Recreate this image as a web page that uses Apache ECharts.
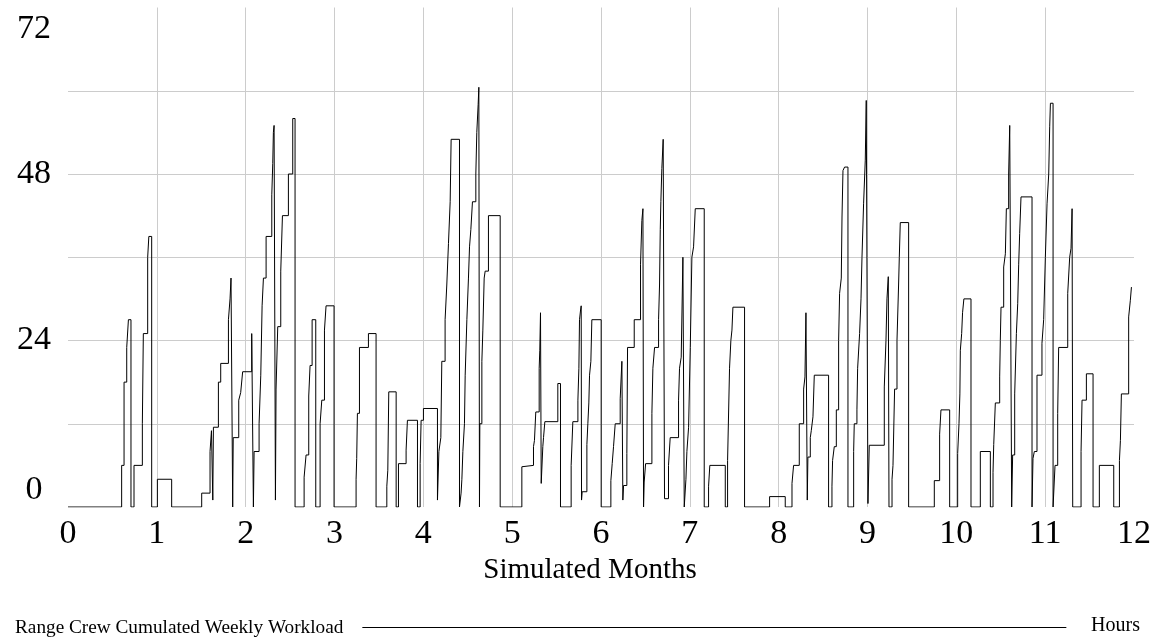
<!DOCTYPE html>
<html>
<head>
<meta charset="utf-8">
<script src="https://cdn.jsdelivr.net/npm/echarts@6/dist/echarts.min.js"></script>
<style>
html,body{margin:0;padding:0;background:#fff;}
#chart{width:1161px;height:643px;}
</style>
</head>
<body>
<div id="chart"></div>
<script>
// Step change points: month where a new value starts, and the workload (hours) from then on
const months = [
  0, 0.604, 0.631, 0.661, 0.680, 0.709, 0.743, 0.837, 0.848, 0.897, 0.910, 0.942,
  1.006, 1.167, 1.505, 1.599, 1.615, 1.630, 1.637, 1.693, 1.719, 1.806, 1.824, 1.835, 1.854, 1.860, 1.922, 1.944, 1.966,
  2.068, 2.087, 2.095, 2.151, 2.170, 2.185, 2.200, 2.230, 2.294, 2.305, 2.312, 2.320, 2.335, 2.342, 2.361, 2.395, 2.414, 2.481, 2.530, 2.556,
  2.658, 2.680, 2.710, 2.725, 2.748, 2.789, 2.838, 2.857, 2.887, 2.905, 2.995,
  3.243, 3.250, 3.258, 3.281, 3.382, 3.468, 3.589, 3.600, 3.611, 3.694, 3.720, 3.806, 3.821, 3.934, 3.964, 3.975, 4.001,
  4.159, 4.175, 4.197, 4.208, 4.245, 4.264, 4.283, 4.302, 4.313, 4.407, 4.425, 4.434, 4.445, 4.463, 4.471, 4.490, 4.508, 4.520, 4.535, 4.553, 4.591, 4.602, 4.617, 4.625, 4.632,
  4.636, 4.659, 4.670, 4.685, 4.696, 4.733, 4.865,
  5.109, 5.128, 5.240, 5.251, 5.266, 5.304, 5.311, 5.319, 5.327, 5.345, 5.353, 5.368, 5.514, 5.544,
  5.664, 5.683, 5.740, 5.751, 5.758, 5.770, 5.777, 5.781, 5.788, 5.841, 5.852, 5.863, 5.871, 5.886, 5.897, 6.002,
  6.111, 6.126, 6.141, 6.160, 6.216, 6.235, 6.246, 6.254, 6.291, 6.299, 6.374, 6.445, 6.460, 6.472, 6.479,
  6.486, 6.502, 6.573, 6.584, 6.603, 6.648, 6.659, 6.667, 6.674, 6.685, 6.700, 6.715,
  6.760, 6.779, 6.873, 6.884, 6.903, 6.922, 6.937, 6.956, 6.967, 6.986, 7.005, 7.023, 7.042, 7.061, 7.162,
  7.211, 7.225, 7.399, 7.425, 7.447, 7.462, 7.474, 7.485, 7.616, 7.898, 8.074,
  8.150, 8.168, 8.232, 8.281, 8.296, 8.307, 8.322, 8.329, 8.356, 8.367, 8.386, 8.401, 8.562,
  8.600, 8.607, 8.626, 8.649, 8.675, 8.686, 8.705, 8.713, 8.724, 8.742, 8.780,
  8.844, 8.851, 8.881, 8.889, 8.911, 8.927, 8.938, 8.956, 8.975, 8.986, 9.005, 9.020,
  9.189, 9.208, 9.219, 9.234, 9.242, 9.276, 9.287, 9.305, 9.332, 9.350, 9.358, 9.369, 9.463,
  9.752, 9.812, 9.827, 9.925, 10.015, 10.030, 10.040, 10.045, 10.060, 10.070, 10.085, 10.165,
  10.270, 10.383, 10.413, 10.421, 10.439, 10.488, 10.495, 10.503, 10.533, 10.552, 10.563, 10.589, 10.601, 10.623,
  10.634, 10.657, 10.676, 10.691, 10.702, 10.713, 10.728, 10.852,
  10.863, 10.878, 10.908, 10.964, 10.983, 11.002, 11.021, 11.040, 11.051, 11.059, 11.089,
  11.111, 11.141, 11.152, 11.254, 11.276, 11.291, 11.303, 11.310, 11.404, 11.415, 11.464, 11.539,
  11.610, 11.772, 11.836, 11.847, 11.858, 11.940, 11.959, 11.971, 11.978
];
const hours = [
  0, 6, 18, 23, 27, 0, 6, 12, 25, 36, 39, 0,
  4, 0, 2, 8, 11, 1, 11.5, 18, 20.7, 27, 30, 33, 0, 10, 15.4, 16.5, 19.5,
  25, 0, 8, 12, 19, 29, 33, 39, 45, 49.5, 54, 55, 1, 17, 26, 34, 42, 48, 56, 0,
  4.3, 7.5, 16, 20.4, 27, 0, 12, 15.4, 25.5, 29, 0,
  4, 7, 13.5, 23, 25, 0, 3, 5.3, 16.6, 0, 6.25, 8.2, 12.5, 0, 6.25, 12.5, 14.2,
  1, 8, 10, 21, 27, 32, 38, 44, 53, 0, 2, 4, 8, 12, 19, 27, 33, 37.5, 40, 44, 48, 54, 58, 60.5, 0,
  12, 21, 25.5, 33, 34, 42, 0,
  5.8, 6, 8.7, 9.6, 13.7, 20, 22.6, 28, 3.4, 8.7, 10, 12.3, 17.8, 0,
  6, 12.3, 15.4, 20, 27, 28.4, 29, 1, 2.2, 9, 12, 15, 19, 21, 27, 0,
  3.8, 6.25, 8.7, 12, 15.6, 21, 1, 3.1, 7.7, 23, 27, 35, 41.3, 43, 0,
  3.6, 6.25, 13.5, 20, 23, 27, 32, 40, 44, 48.8, 53, 1.2,
  6, 10, 15.4, 20, 21.6, 36, 0, 4, 8, 11.5, 23, 36, 37.5, 43, 0,
  3, 6, 0, 6.7, 20, 24, 25.5, 28.8, 0, 1.5, 0,
  3.4, 6, 12, 17, 18.75, 28, 1, 7.2, 10, 11, 13, 19, 0,
  3, 6.7, 8.7, 14, 24, 30.8, 33, 41.8, 48.5, 49, 0,
  8, 12, 14, 20, 25, 30, 36, 43.7, 50, 58.6, 0.5, 8.9,
  17.3, 24, 30, 33.2, 0, 4, 6, 17, 24, 32, 36, 41, 0,
  3.8, 10.5, 14, 0, 7.7, 12, 16.3, 22.6, 25, 28, 30, 0,
  8, 0, 5, 9, 15, 18.75, 24, 28.8, 34.6, 36.5, 43, 48, 55, 0,
  7.5, 16.3, 25, 29.3, 35, 39.4, 44.7, 0,
  7, 8, 19, 23.6, 27, 36, 43.7, 48, 54.8, 58.2, 0,
  6, 13.5, 23, 30.8, 36, 37.3, 43, 0, 8, 15.4, 19.2, 0,
  6, 0, 6.7, 9.6, 16.3, 27.4, 29.8, 31.7, 31.7
];
const xTicks = [0, 1, 2, 3, 4, 5, 6, 7, 8, 9, 10, 11, 12];
const yLabelled = [0, 24, 48, 72];

const FONT = "'Liberation Serif','Times New Roman',serif";
const seriesData = months.map((m, i) => [m, hours[i]]);

const chart = echarts.init(document.getElementById('chart'), null, {renderer: 'canvas'});
chart.setOption({
  animation: false,
  backgroundColor: '#ffffff',
  grid: {left: 68, right: 27, top: 7.5, bottom: 136, containLabel: false},
  xAxis: {
    type: 'value', min: xTicks[0], max: xTicks[xTicks.length - 1], interval: 1,
    name: 'Simulated Months', nameLocation: 'middle', nameGap: 47,
    nameTextStyle: {fontFamily: FONT, fontSize: 29, color: '#000', padding: [0, 22, 0, 0]},
    axisLine: {show: false}, axisTick: {show: false},
    axisLabel: {fontFamily: FONT, fontSize: 34, color: '#000', margin: 10},
    splitLine: {show: true, showMinLine: false, showMaxLine: false, lineStyle: {color: '#cccccc', width: 1}}
  },
  yAxis: {
    type: 'value', min: 0, max: 72, interval: 12,
    axisLine: {show: false}, axisTick: {show: false},
    axisLabel: {
      fontFamily: FONT, fontSize: 34, color: '#000', margin: 34, align: 'center',
      verticalAlignMinLabel: 'bottom', verticalAlignMaxLabel: 'top',
      formatter: v => (v === 72 ? '{t|72}' : (yLabelled.indexOf(v) >= 0 ? String(v) : '')),
      rich: {t: {fontFamily: FONT, fontSize: 34, color: '#000', padding: [5, 0, 0, 0]}}
    },
    splitLine: {show: true, showMinLine: false, showMaxLine: false, lineStyle: {color: '#cccccc', width: 1}}
  },
  legend: {
    left: 15, top: 618, padding: 0, align: 'right', itemWidth: 704, itemHeight: 1,
    icon: 'rect',
    itemStyle: {color: '#000'},
    textStyle: {fontFamily: FONT, fontSize: 19.25, color: '#000', padding: [0, 14, 0, 0]},
    data: ['Range Crew Cumulated Weekly Workload']
  },
  title: {
    text: 'Hours', right: 21, top: 616, padding: 0,
    textStyle: {fontFamily: FONT, fontSize: 20, fontWeight: 'normal', color: '#000'}
  },
  series: [{
    name: 'Range Crew Cumulated Weekly Workload',
    type: 'line', step: 'end', symbol: 'none', showSymbol: false,
    lineStyle: {color: '#000', width: 1},
    itemStyle: {color: '#000'},
    data: seriesData
  }]
});
</script>
</body>
</html>
